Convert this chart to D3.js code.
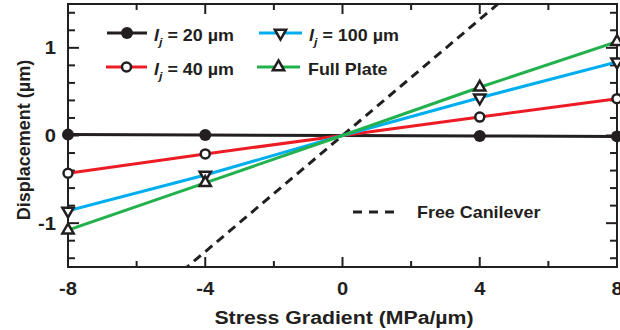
<!DOCTYPE html>
<html><head><meta charset="utf-8">
<script src="https://cdn.jsdelivr.net/npm/d3@7"></script>
<style>body{margin:0;background:#fff}svg{display:block}text{font-family:"Liberation Sans",Arial,sans-serif;font-weight:bold;fill:#231f20}</style>
</head><body><div id="chart"></div>
<script>
const xValues = [-8, -4, 0, 4, 8];
const lj20 = [0.01, 0.005, 0, -0.005, -0.01];
const lj40 = [-0.43, -0.21, 0, 0.21, 0.42];
const lj100 = [-0.86, -0.45, 0, 0.43, 0.84];
const fullPlate = [-1.08, -0.54, 0, 0.55, 1.07];
const freeX = [-8, 8];
const freeY = [-2.65, 2.65];
const xTicks = [-8, -4, 0, 4, 8];
const yTicks = [-1, 0, 1];

const W = 620, H = 330;
const m = {l: 68, r: 3, t: 4, b: 63};
const SX = 1.12; // horizontal text stretch seen in the reference
const svg = d3.select("#chart").append("svg").attr("width", W).attr("height", H);
const x = d3.scaleLinear().domain([-8, 8]).range([m.l, W - m.r]);
const y = d3.scaleLinear().domain([-1.5, 1.5]).range([H - m.b, m.t]);
const ink = "#231f20";

function label(g, tx, ty, size, anchor, str) {
  return g.append("text").attr("transform", `translate(${tx},${ty}) scale(${SX},1)`)
    .attr("text-anchor", anchor).attr("font-size", size).text(str);
}

svg.append("clipPath").attr("id", "clip").append("rect")
  .attr("x", m.l).attr("y", m.t).attr("width", W - m.r - m.l).attr("height", H - m.b - m.t);

// frame
svg.append("rect").attr("x", m.l).attr("y", m.t).attr("width", W - m.r - m.l).attr("height", H - m.b - m.t)
  .attr("fill", "none").attr("stroke", ink).attr("stroke-width", 2);

// ticks
const xMinor = d3.range(-8, 8.01, 2);
const yMinor = d3.range(-1.4, 1.41, 0.2);
const tk = svg.append("g").attr("stroke", ink).attr("stroke-width", 2);
xMinor.forEach(v => {
  const major = Math.abs(v % 4) < 1e-6;
  const L = major ? 10 : 6;
  tk.append("line").attr("x1", x(v)).attr("x2", x(v)).attr("y1", y(-1.5)).attr("y2", y(-1.5) - L);
  tk.append("line").attr("x1", x(v)).attr("x2", x(v)).attr("y1", y(1.5)).attr("y2", y(1.5) + L);
});
yMinor.forEach(v => {
  const major = Math.abs(v - Math.round(v)) < 1e-6;
  const L = major ? 11 : 7;
  tk.append("line").attr("x1", x(-8)).attr("x2", x(-8) + L).attr("y1", y(v)).attr("y2", y(v));
  tk.append("line").attr("x1", x(8)).attr("x2", x(8) - L).attr("y1", y(v)).attr("y2", y(v));
});

// tick labels
const tl = svg.append("g");
xTicks.forEach(d => label(tl, x(d), 295, 18, "middle", d));
yTicks.forEach(d => label(tl, 56, y(d) + 6.5, 18, "end", d));

// axis titles
label(svg, 344, 324, 19, "middle", "Stress Gradient (MPa/\u00b5m)");
svg.append("text").attr("transform", "translate(30,140) rotate(-90)").attr("text-anchor", "middle").attr("font-size", 18)
  .text("Displacement (\u00b5m)");

const series = [
  {vals: lj20, color: ink, marker: "fcircle"},
  {vals: lj40, color: "#ed1c24", marker: "ocircle"},
  {vals: lj100, color: "#00aeef", marker: "dtri"},
  {vals: fullPlate, color: "#22b14c", marker: "utri"}
];

const line = d3.line().x(d => x(d[0])).y(d => y(d[1]));
const plot = svg.append("g").attr("clip-path", "url(#clip)");
plot.append("path").datum(freeX.map((v, i) => [v, freeY[i]])).attr("d", line)
  .attr("fill", "none").attr("stroke", ink).attr("stroke-width", 3).attr("stroke-dasharray", "9,6");
series.forEach(s => {
  plot.append("path").datum(xValues.map((v, i) => [v, s.vals[i]])).attr("d", line)
    .attr("fill", "none").attr("stroke", s.color).attr("stroke-width", 3);
});

function drawMarker(g, type, cx, cy) {
  if (type === "fcircle") {
    g.append("circle").attr("cx", cx).attr("cy", cy).attr("r", 6).attr("fill", ink);
  } else if (type === "ocircle") {
    g.append("circle").attr("cx", cx).attr("cy", cy).attr("r", 4.5).attr("fill", "#fff").attr("stroke", ink).attr("stroke-width", 2.5);
  } else {
    const sym = d3.symbol().type(d3.symbolTriangle).size(55);
    g.append("path").attr("d", sym())
      .attr("transform", `translate(${cx},${cy})` + (type === "dtri" ? " rotate(180)" : ""))
      .attr("fill", "#fff").attr("stroke", ink).attr("stroke-width", 2.5);
  }
}
const mk = svg.append("g");
series.forEach(s => {
  xValues.forEach((v, i) => { if (v !== 0) drawMarker(mk, s.marker, x(v), y(s.vals[i])); });
});

// legend
const legendItems = [
  {s: series[0], x1: 107, x2: 147, ly: 33, label: "20 \u00b5m", sub: true},
  {s: series[1], x1: 106, x2: 147, ly: 67, label: "40 \u00b5m", sub: true},
  {s: series[2], x1: 259, x2: 302, ly: 33, label: "100 \u00b5m", sub: true},
  {s: series[3], x1: 257, x2: 300, ly: 67, label: "Full Plate", sub: false}
];
const lg = svg.append("g");
legendItems.forEach(it => {
  lg.append("line").attr("x1", it.x1).attr("x2", it.x2).attr("y1", it.ly).attr("y2", it.ly)
    .attr("stroke", it.s.color).attr("stroke-width", 3);
  drawMarker(lg, it.s.marker, (it.x1 + it.x2) / 2, it.ly);
  const t = label(lg, it.x2 + (it.sub ? 7 : 8), it.ly + 8, 16, "start", null);
  if (it.sub) {
    t.append("tspan").attr("font-style", "italic").text("l");
    t.append("tspan").attr("font-style", "italic").attr("font-size", 11).attr("dy", 5).text("j");
    t.append("tspan").attr("dy", -5).text(" = " + it.label);
  } else {
    t.text(it.label);
  }
});
lg.append("line").attr("x1", 353).attr("x2", 400).attr("y1", 212).attr("y2", 212)
  .attr("stroke", ink).attr("stroke-width", 3).attr("stroke-dasharray", "9,7");
label(lg, 417, 218, 16, "start", "Free Canilever");
</script></body></html>
